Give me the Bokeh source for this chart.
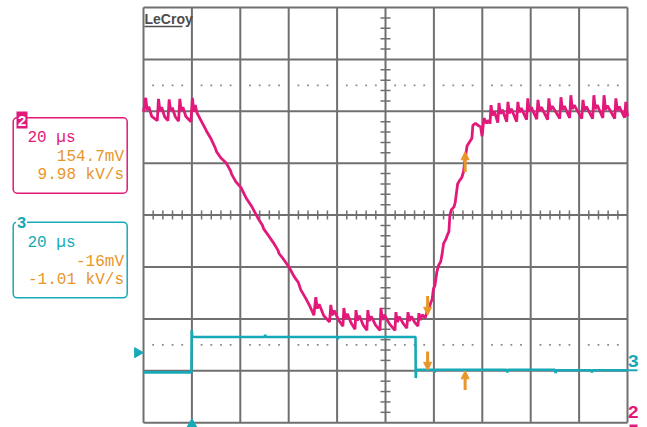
import math
from bokeh.plotting import figure
from bokeh.models import Range1d, Label, Arrow, NormalHead
from bokeh.embed import file_html
from bokeh.resources import INLINE

# ---------------- data (time in µs, amplitude in screen divisions) ----------------
CH2_T = [-20.0, -19.1, -18.5, -17.8, -16.6, -14.3, -13.8, -13.2, -12.5, -11.3, -9.9, -9.4,
         -8.8, -8.1, -6.9, -5.5, -5.0, -4.4, -3.7, -2.5, -0.4, 0.2, 0.8, 1.4, 2.1,
         4.0, 5.6, 6.0, 7.9, 9.6, 10.2, 12.0, 14.1, 16.0, 16.4, 18.2, 20.3, 22.4, 24.8,
         27.3, 29.2, 29.6, 31.4, 33.5, 35.6, 36.0, 38.0, 40.1, 42.2, 44.0, 45.0, 47.0,
         48.8, 50.4,
         51.2, 51.8, 52.6, 54.5, 56.9, 57.4, 58.0, 58.8, 60.6, 62.4, 62.8, 63.4, 64.2,
         65.8, 67.4, 67.8, 68.4, 69.2, 70.8, 72.3, 72.7, 73.3, 74.1, 75.9, 77.7, 78.1,
         78.7, 79.5, 81.7, 83.9, 84.3, 84.9, 85.7, 87.2, 88.8, 89.3, 89.9, 90.7, 92.0,
         93.4, 93.8, 94.4, 95.2, 96.4, 97.2,
         97.9, 98.6, 99.3, 99.8, 100.4, 101.2, 102.0, 102.8, 103.3, 104.0, 105.0, 105.6,
         106.2, 106.6, 107.2, 108.3, 108.8, 109.8, 110.5, 111.5, 112.2, 112.9, 113.7,
         114.6, 115.7, 116.1, 117.2, 118.5, 119.3, 119.9, 120.7, 121.8, 122.6,
         123.2, 123.6, 124.2, 125.0, 126.4, 126.9, 127.5, 128.3, 130.1, 130.6, 131.2,
         132.0, 134.2, 134.7, 135.3, 136.1, 138.3, 138.8, 139.4, 140.2, 142.5, 143.0,
         143.6, 144.4, 147.0, 147.5, 148.1, 148.9, 152.0, 152.5, 153.1, 153.9, 156.1,
         156.6, 157.2, 158.0, 161.1, 161.6, 162.2, 163.0, 165.6, 166.1, 166.7, 167.5,
         169.8, 170.3, 170.9, 171.7, 174.7, 175.2, 175.8, 176.6, 178.8, 179.3, 180.0]
CH2_V = [1.99, 2.26, 2.02, 2.09, 1.90, 1.82, 2.24, 2.01, 2.08, 1.90, 1.82, 2.23,
         2.02, 2.07, 1.90, 1.81, 2.24, 2.01, 2.08, 1.90, 1.80, 2.26, 1.99, 2.12, 1.97,
         1.80, 1.66, 1.62, 1.47, 1.30, 1.22, 1.10, 1.01, 0.85, 0.79, 0.64, 0.53, 0.33, 0.16,
         -0.06, -0.20, -0.26, -0.38, -0.52, -0.68, -0.74, -0.86, -1.00, -1.18, -1.30, -1.44, -1.60,
         -1.76, -1.93,
         -1.58, -1.80, -1.72, -1.94, -2.06, -1.73, -1.93, -1.84, -2.02, -2.14, -1.79, -1.99, -1.90,
         -2.08, -2.20, -1.83, -2.03, -1.94, -2.12, -2.22, -1.83, -2.04, -1.95, -2.12, -2.22, -1.79,
         -2.02, -1.92, -2.10, -2.22, -1.87, -2.06, -1.96, -2.08, -2.18, -1.87, -2.04, -1.95, -2.06,
         -2.14, -1.89, -2.02, -1.92, -1.98, -1.86,
         -1.82, -1.70, -1.62, -1.42, -1.36, -1.10, -0.96, -0.90, -0.78, -0.55, -0.46, -0.38,
         -0.32, 0.00, 0.10, 0.16, 0.24, 0.60, 0.66, 0.72, 0.83, 1.08, 1.33,
         1.40, 1.48, 1.73, 1.77, 1.72, 1.70, 1.52, 1.87, 1.77, 1.83,
         1.76, 2.12, 1.92, 2.00, 1.78, 2.16, 1.95, 2.03, 1.80, 2.18, 1.96,
         2.05, 1.80, 2.18, 1.98, 2.06, 1.84, 2.25, 2.00, 2.08, 1.85, 2.22,
         2.01, 2.08, 1.84, 2.25, 2.02, 2.10, 1.86, 2.27, 2.03, 2.10, 1.87,
         2.31, 2.04, 2.12, 1.86, 2.22, 2.02, 2.09, 1.86, 2.31, 2.04, 2.12,
         1.87, 2.31, 2.03, 2.11, 1.86, 2.25, 2.02, 2.09, 1.88, 2.18, 1.90]

CH3_T = [-20.0, -0.2, -0.1, 0.2, 0.4, 30.0, 30.3, 30.6, 60.0, 60.3, 60.6, 92.4, 92.5, 92.7,
         93.0, 100.0, 100.3, 100.6, 130.0, 130.3, 130.6, 150.0, 150.3, 150.6, 165.0, 165.3,
         165.6, 180.0]
CH3_V = [-3.03, -3.03, -2.22, -2.35, -2.35, -2.35, -2.31, -2.35, -2.35, -2.39, -2.35, -2.35,
         -3.14, -2.98, -2.98, -2.98, -3.03, -2.98, -2.98, -3.03, -2.98, -2.98, -3.04, -2.99,
         -2.99, -3.03, -2.99, -2.99]

CURSOR_T = [97.4, 112.9]                      # cursor times (µs)
CH2_CURSOR_ARROWS = [(-1.56, -1.93), (0.83, 1.22)]   # (tail, tip) in divisions
CH3_CURSOR_ARROWS = [(-2.63, -2.99), (-3.37, -3.00)]
CH3_OFFSET_DIV = -2.65
TRIGGER_T = 0.0

CH2_LABELS = ["20 µs", "154.7mV", "9.98 kV/s"]
CH3_LABELS = ["20 µs", "-16mV", "-1.01 kV/s"]

# ---------------- layout (page pixels == figure pixels) ----------------
W, H = 647, 427
PX_X = 48.4 / 20.0       # px per µs
PX_Y = 51.9              # px per division
GRID_LEFT = 143.0
GRID_TOP = 7.0

X0 = -20 - GRID_LEFT / PX_X
X1 = X0 + W / PX_X
Y1 = 4 + GRID_TOP / PX_Y
Y0 = Y1 - H / PX_Y


def fx(px):
    return X0 + px / PX_X


def fy(py):
    return Y1 - py / PX_Y


MAGENTA = "#e2197b"
CYAN = "#17a9b8"
ORANGE = "#e8962a"
GRID = "#707070"
FONT = "Liberation Mono"

p = figure(width=W, height=H, x_range=Range1d(X0, X1), y_range=Range1d(Y0, Y1),
           output_backend="svg", toolbar_location=None, x_axis_type=None, y_axis_type=None,
           min_border=0)
p.grid.visible = False
p.outline_line_color = None
p.background_fill_color = "white"
p.border_fill_color = "white"

# grid
vx = [-20 + 20 * i for i in range(11)]
p.segment(x0=vx, y0=[-4] * 11, x1=vx, y1=[4] * 11, line_color=GRID, line_width=2)
hy = list(range(-4, 5))
p.segment(x0=[-20] * 9, y0=hy, x1=[180] * 9, y1=hy, line_color=GRID, line_width=2)

# center ticks
ty = [k * 0.2 for k in range(-20, 21) if k % 5 != 0]
dx = 5 / PX_X
p.segment(x0=[80 - dx] * len(ty), y0=ty, x1=[80 + dx] * len(ty), y1=ty, line_color=GRID, line_width=1.5)
tx = [-20 + 4 * k for k in range(51) if k % 5 != 0]
dy = 4.5 / PX_Y
p.segment(x0=tx, y0=[-dy] * len(tx), x1=tx, y1=[dy] * len(tx), line_color=GRID, line_width=1.5)

# dotted reference rows
p.scatter(x=tx * 2, y=[2.5] * len(tx) + [-2.5] * len(tx), marker="square", size=1.8,
          color="#8a8a8a", line_width=0)

# traces
p.line(CH3_T, CH3_V, line_color=CYAN, line_width=2.6)
p.line(CH2_T, CH2_V, line_color=MAGENTA, line_width=2.8)

# cursor arrows
for t, (a, b) in zip(CURSOR_T, CH2_CURSOR_ARROWS):
    p.add_layout(Arrow(end=NormalHead(size=8, fill_color=ORANGE, line_color=ORANGE),
                       x_start=t, y_start=a, x_end=t, y_end=b, line_color=ORANGE, line_width=3))
for t, (a, b) in zip(CURSOR_T, CH3_CURSOR_ARROWS):
    p.add_layout(Arrow(end=NormalHead(size=8, fill_color=ORANGE, line_color=ORANGE),
                       x_start=t, y_start=a, x_end=t, y_end=b, line_color=ORANGE, line_width=3))

# markers: ch3 offset, trigger
p.scatter(x=[fx(137)], y=[CH3_OFFSET_DIV], marker="triangle", angle=-math.pi / 2, size=10,
          color=CYAN)
p.scatter(x=[TRIGGER_T], y=[fy(424)], marker="triangle", size=10, color=CYAN)

# right side channel labels
p.segment(x0=[180], y0=[-2.99], x1=[fx(637)], y1=[-2.99], line_color=CYAN, line_width=2)
p.segment(x0=[fx(629)], y0=[fy(425.5)], x1=[fx(637)], y1=[fy(425.5)], line_color=MAGENTA,
          line_width=3)
p.add_layout(Label(x=fx(627), y=fy(360), text="3", text_font=FONT, text_font_style="bold",
                   text_font_size="19px", text_color=CYAN, text_baseline="middle"))
p.add_layout(Label(x=fx(627), y=fy(411), text="2", text_font=FONT, text_font_style="bold",
                   text_font_size="19px", text_color=MAGENTA, text_baseline="middle"))

# LeCroy logo
p.add_layout(Label(x=fx(144), y=fy(18.5), text="LeCroy", text_font="Liberation Sans",
                   text_font_style="bold", text_font_size="14px", text_color="#4d4d4d",
                   text_baseline="middle"))
p.segment(x0=[fx(144)], y0=[fy(26)], x1=[fx(182)], y1=[fy(26)], line_color="#4d4d4d",
          line_width=1.5)

# channel boxes
p.quad(left=[fx(12.7)], right=[fx(126.7)], top=[fy(117.3)], bottom=[fy(192.7)],
       fill_color=None, line_color=MAGENTA, line_width=1.5, border_radius=4)
p.quad(left=[fx(12.7)], right=[fx(126.7)], top=[fy(221.7)], bottom=[fy(297.3)],
       fill_color=None, line_color=CYAN, line_width=1.5, border_radius=4)
p.quad(left=[fx(16)], right=[fx(27)], top=[fy(111)], bottom=[fy(128)],
       fill_color=MAGENTA, line_color=None)
p.quad(left=[fx(15.5)], right=[fx(26.5)], top=[fy(213)], bottom=[fy(229)],
       fill_color="white", line_color=None)
p.add_layout(Label(x=fx(21.5), y=fy(120), text="2", text_font=FONT, text_font_style="bold",
                   text_font_size="15px", text_color="white", text_align="center",
                   text_baseline="middle"))
p.add_layout(Label(x=fx(21), y=fy(222), text="3", text_font=FONT, text_font_style="bold",
                   text_font_size="16px", text_color=CYAN, text_align="center",
                   text_baseline="middle"))

# texts in boxes
rows2 = [(fx(27), fy(137.5), "left", MAGENTA), (fx(123.5), fy(156), "right", ORANGE),
         (fx(123.5), fy(174.5), "right", ORANGE)]
for (x, y, al, c), txt in zip(rows2, CH2_LABELS):
    p.add_layout(Label(x=x, y=y, text=txt, text_font=FONT, text_font_size="16px",
                       text_color=c, text_align=al, text_baseline="middle"))
rows3 = [(fx(27), fy(242.5), "left", CYAN), (fx(123.5), fy(261), "right", ORANGE),
         (fx(123.5), fy(279), "right", ORANGE)]
for (x, y, al, c), txt in zip(rows3, CH3_LABELS):
    p.add_layout(Label(x=x, y=y, text=txt, text_font=FONT, text_font_size="16px",
                       text_color=c, text_align=al, text_baseline="middle"))

open("out.html", "w").write(file_html(p, INLINE))
